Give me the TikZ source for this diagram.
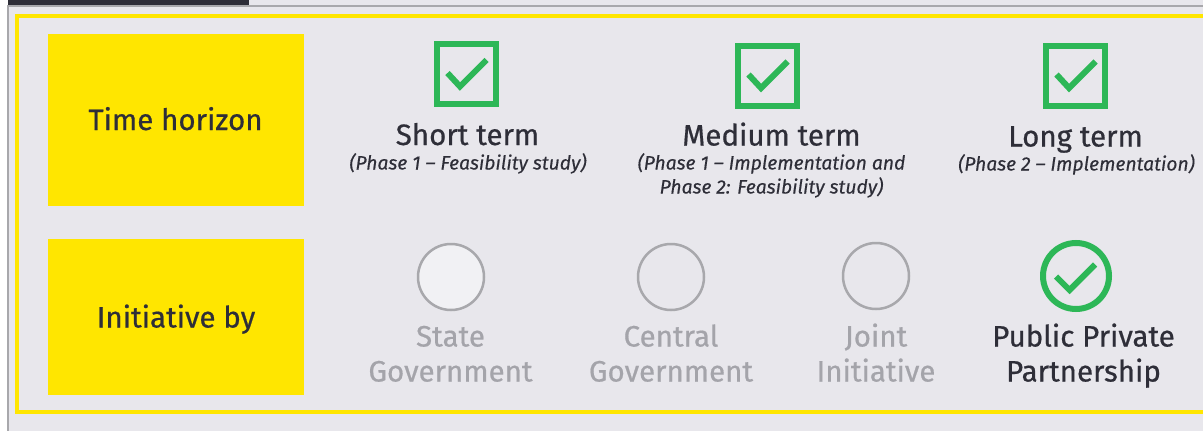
\documentclass[tikz,border=0pt]{standalone}
\usepackage{fontspec}
\setmainfont{Fira Sans}
\definecolor{bg}{HTML}{E8E7EC}
\definecolor{eyyellow}{HTML}{FFE600}
\definecolor{eygreen}{HTML}{2DB757}
\definecolor{dark}{HTML}{2E2E38}
\definecolor{mute}{HTML}{A4A4AA}
\definecolor{frame}{HTML}{A8A8AC}
\definecolor{lightfill}{HTML}{F1F1F4}
\newfontfamily\heavy[FakeBold=0.6]{Fira Sans}
\newfontfamily\heavyit[FakeBold=0.3]{Fira Sans Italic}
\tikzset{
  labelbox/.style={fill=eyyellow, draw=none, minimum width=256pt, inner sep=0pt},
  labeltext/.style={text=dark, font=\heavy\fontsize{29.5}{35}\selectfont, inner sep=0pt, anchor=base},
  title/.style={text=dark, font=\heavy\fontsize{29.5}{35}\selectfont, inner sep=0pt, anchor=base},
  subtitle/.style={text=dark, font=\heavyit\fontsize{19.3}{24}\selectfont, align=center, inner sep=0pt, anchor=base},
  option/.style={font=\heavy\fontsize{29.5}{35}\selectfont, align=center, inner sep=0pt, anchor=base},
  tick/.style={draw=eygreen, line width=6pt, line cap=butt, line join=miter},
  checkbox/.style={draw=eygreen, line width=6pt, minimum width=59pt, minimum height=60pt, inner sep=0pt},
  offcircle/.style={circle, draw=frame, line width=2.5pt, minimum size=66pt, inner sep=0pt},
  oncircle/.style={circle, draw=eygreen, line width=6pt, minimum size=66pt, inner sep=0pt}
}
\begin{document}
\begin{tikzpicture}[x=1pt,y=-1pt]
\useasboundingbox (0,0) rectangle (1203,431);
% background
\fill[white] (0,0) rectangle (1203,431);
\fill[bg] (8,0) rectangle (1203,431);
\fill[dark] (8,0) rectangle (249,5);
\draw[frame, line width=2pt] (8,431) -- (8,6) -- (1203,6);
% yellow frame
\draw[eyyellow, line width=4pt] (1210,15.5) -- (16.5,15.5) -- (16.5,411.5) -- (1210,411.5);
% row labels
\node[labelbox, minimum height=172pt] (th) at (176,119.5) {};
\node[labeltext] (tht) at (175.5,130) {Time horizon};
\node[labelbox, minimum height=156pt] (ib) at (176,317) {};
\node[labeltext] (ibt) at (176,327.5) {Initiative by};
% time horizon options
\node[checkbox] (cb1) at (466.5,74) {};
\node[checkbox] (cb2) at (767.5,75.5) {};
\node[checkbox] (cb3) at (1075.5,75.5) {};
\foreach \c in {cb1,cb2,cb3}{
  \draw[tick] ([shift={(-19,-1)}]\c.center) -- ([shift={(-6.5,12.5)}]\c.center) -- ([shift={(20,-14)}]\c.center);
}
\node[title] (st) at (467.5,145) {Short term};
\node[subtitle] (sts) at (468,169.5) {(Phase 1 – Feasibility study)};
\node[title] (mt) at (771.5,145.5) {Medium term};
\node[subtitle] (mts) at (771.5,193.5) {(Phase 1 – Implementation and\\Phase 2: Feasibility study)};
\node[title] (lt) at (1075.5,146.5) {Long term};
\node[subtitle] (lts) at (1076.5,170.5) {(Phase 2 – Implementation)};
% initiative options
\node[offcircle, fill=lightfill] (c1) at (451,277) {};
\node[offcircle] (c2) at (671,277) {};
\node[offcircle] (c3) at (876,276) {};
\node[oncircle] (c4) at (1076,276) {};
\draw[tick] ([shift={(-20,0.5)}]c4.center) -- ([shift={(-6.5,14)}]c4.center) -- ([shift={(19,-11.5)}]c4.center);
\node[option, text=mute] (o1) at (450.5,381.5) {State\\Government};
\node[option, text=mute] (o2) at (671,381.5) {Central\\Government};
\node[option, text=mute] (o3) at (876,381.5) {Joint\\Initiative};
\node[option, text=dark] (o4) at (1083.5,381.5) {Public Private\\Partnership};
\end{tikzpicture}
\end{document}
